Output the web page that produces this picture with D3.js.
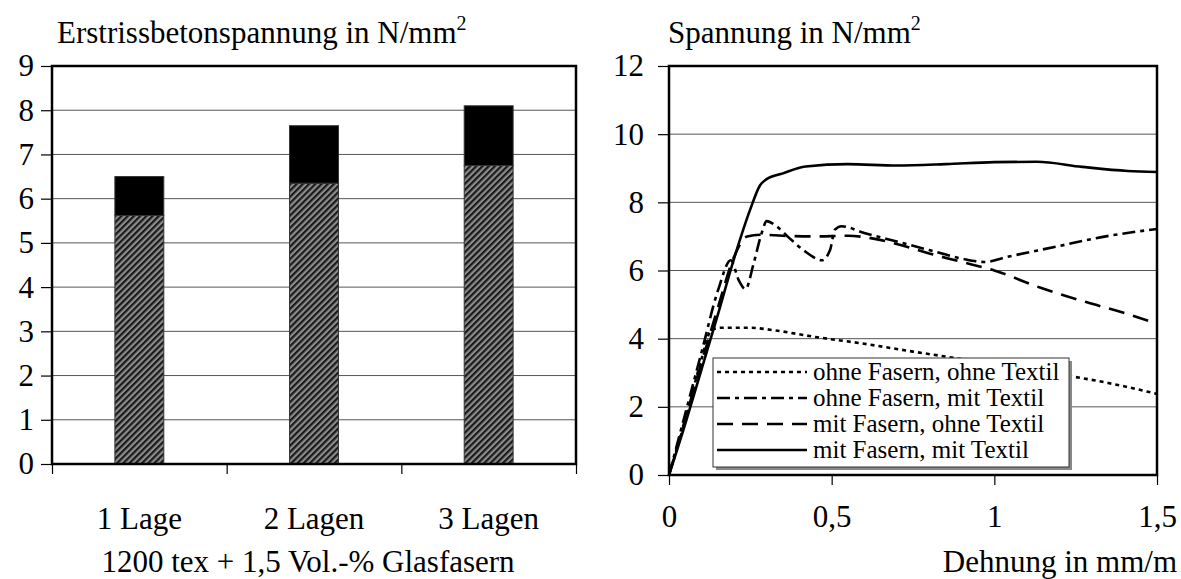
<!DOCTYPE html>
<html>
<head>
<meta charset="utf-8">
<script src="https://cdn.jsdelivr.net/npm/d3@7"></script>
<style>
  body { margin: 0; background: white; }
  text { font-family: "Liberation Serif", "Times New Roman", serif; fill: black; }
</style>
</head>
<body>
<div id="container"></div>
<script>
/* CONSTANTS AND GLOBALS */
const width = 1181;
const height = 579;
const fs = 31;

/* DATA */
// left chart: bars, stacked (hatched part + black part on top)
const categories = ["1 Lage", "2 Lagen", "3 Lagen"];
const hatchedValues = [5.62, 6.35, 6.75];
const blackValues = [0.88, 1.30, 1.35];
const barTicks = [0, 1, 2, 3, 4, 5, 6, 7, 8, 9];

// right chart: stress-strain curves [strain, stress]
const seriesNames = [
  "ohne Fasern, ohne Textil",
  "ohne Fasern, mit Textil",
  "mit Fasern, ohne Textil",
  "mit Fasern, mit Textil"
];
const ohneOhne = [[0,0],[0.05,1.6],[0.1,3.4],[0.13,4.25],[0.16,4.32],[0.25,4.32],[0.32,4.25],[0.45,4.05],[0.6,3.85],[0.75,3.62],[0.9,3.4],[1.05,3.15],[1.2,2.95],[1.35,2.7],[1.5,2.38]];
const ohneMit = [[0,0],[0.05,1.8],[0.1,3.6],[0.15,5.4],[0.19,6.3],[0.215,5.7],[0.235,5.45],[0.26,6.2],[0.285,7.1],[0.3,7.45],[0.33,7.3],[0.37,6.95],[0.42,6.55],[0.47,6.3],[0.495,6.6],[0.51,7.2],[0.53,7.3],[0.6,7.1],[0.7,6.85],[0.8,6.6],[0.9,6.35],[0.97,6.25],[1.04,6.4],[1.19,6.7],[1.33,6.98],[1.5,7.22]];
const mitOhne = [[0,0],[0.05,1.65],[0.1,3.3],[0.15,4.9],[0.2,6.4],[0.24,7.0],[0.28,7.05],[0.35,7.02],[0.45,7.0],[0.55,7.02],[0.62,6.95],[0.7,6.78],[0.8,6.5],[0.9,6.25],[1.0,6.0],[1.14,5.5],[1.28,5.08],[1.4,4.75],[1.5,4.44]];
const mitMit = [[0,0],[0.05,1.5],[0.1,3.1],[0.15,4.7],[0.2,6.35],[0.25,7.8],[0.28,8.5],[0.3,8.68],[0.35,8.85],[0.42,9.05],[0.55,9.12],[0.7,9.08],[0.85,9.12],[1.0,9.18],[1.13,9.19],[1.27,9.04],[1.41,8.92],[1.5,8.89]];
const lineTicksX = [0, 0.5, 1, 1.5];
const lineTicksY = [0, 2, 4, 6, 8, 10, 12];

const dashes = ["4,4", "13,5,4,5", "16,9", null];

const de = d3.formatLocale({ decimal: ",", thousands: ".", grouping: [3], currency: ["", " €"] });
const fmt = de.format("");

const svg = d3.select("#container")
  .append("svg")
  .attr("width", width)
  .attr("height", height)
  .style("background-color", "white");

// hatch pattern for the bars
const pat = svg.append("defs").append("pattern")
  .attr("id", "hatch")
  .attr("patternUnits", "userSpaceOnUse")
  .attr("width", 4.4).attr("height", 4.4)
  .attr("patternTransform", "rotate(45)");
pat.append("rect").attr("width", 4.4).attr("height", 4.4).attr("fill", "#8c8c8c");
pat.append("rect").attr("width", 2.2).attr("height", 4.4).attr("fill", "#1a1a1a");

/* LEFT CHART */
const xBand = d3.scaleBand()
  .domain(categories)
  .range([52, 576])
  .paddingInner(0.72)
  .paddingOuter(0.36);

const xBound = d3.scaleLinear().domain([0, categories.length]).range([52, 576]);
const yBar = d3.scaleLinear().domain([0, 9]).range([464, 66]);

const left = svg.append("g");

left.selectAll(".grid")
  .data(barTicks.slice(1, -1))
  .join("line")
  .attr("x1", 52).attr("x2", 576)
  .attr("y1", d => yBar(d)).attr("y2", d => yBar(d))
  .attr("stroke", "#555").attr("stroke-width", 1);

const stacked = d3.stack().keys(["hatched", "black"])(
  categories.map((c, i) => ({ cat: c, hatched: hatchedValues[i], black: blackValues[i] }))
);

left.selectAll(".layer")
  .data(stacked)
  .join("g")
  .attr("fill", (d, i) => i === 0 ? "url(#hatch)" : "black")
  .selectAll("rect")
  .data(d => d)
  .join("rect")
  .attr("x", d => xBand(d.data.cat))
  .attr("y", d => yBar(d[1]))
  .attr("width", xBand.bandwidth())
  .attr("height", d => yBar(d[0]) - yBar(d[1]))
  .attr("stroke", "#333").attr("stroke-width", 1);

// frame
left.append("rect")
  .attr("x", 52).attr("y", 66)
  .attr("width", 576 - 52).attr("height", 464 - 66)
  .attr("fill", "none").attr("stroke", "black").attr("stroke-width", 2.5);

// y axis
const yAxisL = left.append("g")
  .attr("transform", "translate(52,0)")
  .call(d3.axisLeft(yBar).tickValues(barTicks).tickSize(11).tickPadding(7).tickFormat(fmt));
yAxisL.select(".domain").remove();
yAxisL.selectAll("line").attr("stroke-width", 1.2);
yAxisL.selectAll("text").attr("font-size", fs);

// x boundary ticks
const xAxisL = left.append("g")
  .attr("transform", "translate(0,464)")
  .call(d3.axisBottom(xBound).tickValues(d3.range(categories.length + 1)).tickSize(10).tickFormat(""));
xAxisL.select(".domain").remove();
xAxisL.selectAll("line").attr("stroke-width", 1.2);

left.selectAll(".cat")
  .data(categories)
  .join("text")
  .attr("x", d => xBand(d) + xBand.bandwidth() / 2)
  .attr("y", 529)
  .attr("text-anchor", "middle")
  .attr("font-size", fs)
  .text(d => d);

left.append("text")
  .attr("x", 308).attr("y", 572)
  .attr("text-anchor", "middle")
  .attr("font-size", fs)
  .text("1200 tex + 1,5 Vol.-% Glasfasern");

const t1 = left.append("text").attr("x", 57).attr("y", 43).attr("font-size", fs);
t1.append("tspan").text("Erstrissbetonspannung in N/mm");
t1.append("tspan").attr("font-size", 20).attr("dy", -13).text("2");

/* RIGHT CHART */
const xLine = d3.scaleLinear().domain([0, 1.5]).range([669, 1157]);
const yLine = d3.scaleLinear().domain([0, 12]).range([475, 66]);

const right = svg.append("g");

right.selectAll(".grid")
  .data(lineTicksY.slice(1, -1))
  .join("line")
  .attr("x1", 669).attr("x2", 1157)
  .attr("y1", d => yLine(d)).attr("y2", d => yLine(d))
  .attr("stroke", "#555").attr("stroke-width", 1);

const line = d3.line()
  .x(d => xLine(d[0]))
  .y(d => yLine(d[1]))
  .curve(d3.curveMonotoneX);

const allSeries = [ohneOhne, ohneMit, mitOhne, mitMit];

right.selectAll(".curve")
  .data(allSeries)
  .join("path")
  .attr("d", line)
  .attr("fill", "none")
  .attr("stroke", "black")
  .attr("stroke-width", 2.6)
  .attr("stroke-dasharray", (d, i) => dashes[i]);

right.append("rect")
  .attr("x", 669).attr("y", 66)
  .attr("width", 1157 - 669).attr("height", 475 - 66)
  .attr("fill", "none").attr("stroke", "black").attr("stroke-width", 2.5);

const yAxisR = right.append("g")
  .attr("transform", "translate(669,0)")
  .call(d3.axisLeft(yLine).tickValues(lineTicksY).tickSize(11).tickPadding(14).tickFormat(fmt));
yAxisR.select(".domain").remove();
yAxisR.selectAll("line").attr("stroke-width", 1.2);
yAxisR.selectAll("text").attr("font-size", fs);

const xAxisR = right.append("g")
  .attr("transform", "translate(0,475)")
  .call(d3.axisBottom(xLine).tickValues(lineTicksX).tickSize(10).tickPadding(20).tickFormat(fmt));
xAxisR.select(".domain").remove();
xAxisR.selectAll("line").attr("stroke-width", 1.2);
xAxisR.selectAll("text").attr("font-size", fs);

right.append("text")
  .attr("x", 1177).attr("y", 572)
  .attr("text-anchor", "end")
  .attr("font-size", fs)
  .text("Dehnung in mm/m");

const t2 = right.append("text").attr("x", 668).attr("y", 43).attr("font-size", fs);
t2.append("tspan").text("Spannung in N/mm");
t2.append("tspan").attr("font-size", 20).attr("dy", -13).text("2");

/* LEGEND */
const lg = right.append("g").attr("transform", "translate(713,358)");
lg.append("rect").attr("x", 3).attr("y", 3).attr("width", 356).attr("height", 109).attr("fill", "#888");
lg.append("rect").attr("width", 356).attr("height", 109).attr("fill", "white").attr("stroke", "#333").attr("stroke-width", 1);

const rows = lg.selectAll(".row")
  .data(seriesNames)
  .join("g")
  .attr("transform", (d, i) => `translate(0,${14 + i * 26})`);

rows.append("line")
  .attr("x1", 4).attr("x2", 94)
  .attr("stroke", "black").attr("stroke-width", 2.6)
  .attr("stroke-dasharray", (d, i) => dashes[i]);

rows.append("text")
  .attr("x", 100).attr("y", 8)
  .attr("font-size", 25)
  .text(d => d);
</script>
</body>
</html>
